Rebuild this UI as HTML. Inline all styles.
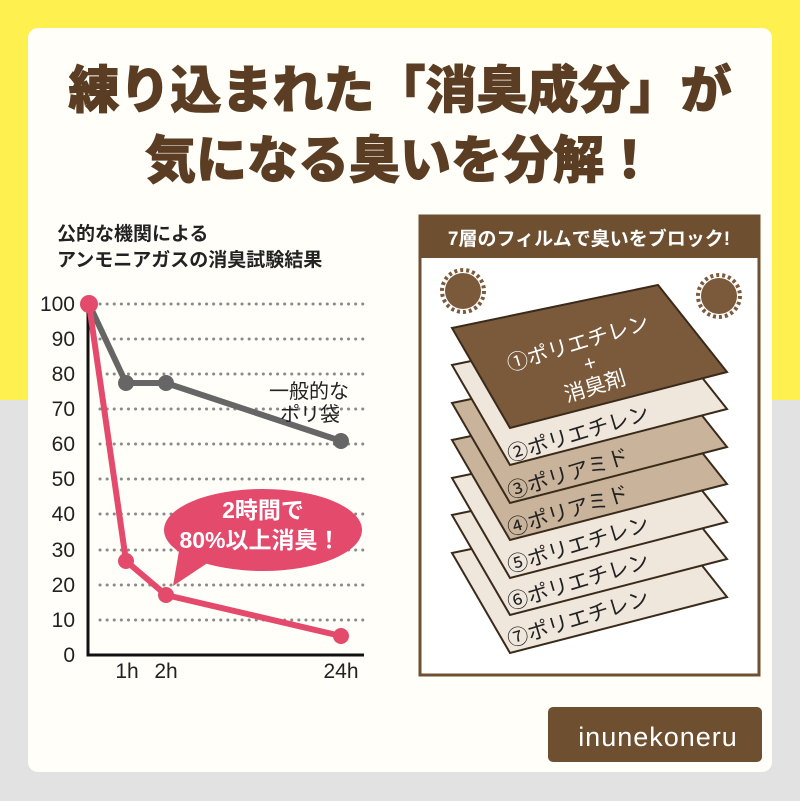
<!DOCTYPE html>
<html><head><meta charset="utf-8"><style>
body{margin:0;width:800px;height:801px;overflow:hidden;font-family:"Liberation Sans","Noto Sans CJK JP",sans-serif}
</style></head><body>
<svg width="800" height="801" viewBox="0 0 800 801" xmlns="http://www.w3.org/2000/svg" font-family="Liberation Sans, Noto Sans CJK JP, sans-serif">
<rect width="800" height="400" fill="#fdf04f"/>
<rect y="400" width="800" height="401" fill="#e2e2e2"/>
<rect x="28" y="28" width="744" height="744" rx="10" fill="#fffef9"/>
<g font-weight="900" fill="#5a3d22" font-size="51" text-anchor="middle" stroke="#5a3d22" stroke-width="1">
<text x="400" y="108">練り込まれた「消臭成分」が</text>
<text x="400" y="178">気になる臭いを分解！</text>
</g>
<g font-weight="bold" fill="#222" font-size="19">
<text x="57" y="240">公的な機関による</text>
<text x="57" y="266">アンモニアガスの消臭試験結果</text>
</g>
<g stroke="#8a8a8a" stroke-width="3" stroke-dasharray="0.1 7" stroke-linecap="round">
<line x1="100" y1="304" x2="367" y2="304"/><line x1="100" y1="339" x2="367" y2="339"/>
<line x1="100" y1="374" x2="367" y2="374"/><line x1="100" y1="409" x2="367" y2="409"/>
<line x1="100" y1="444" x2="367" y2="444"/><line x1="100" y1="479" x2="367" y2="479"/>
<line x1="100" y1="514" x2="367" y2="514"/><line x1="100" y1="550" x2="367" y2="550"/>
<line x1="100" y1="585" x2="367" y2="585"/><line x1="100" y1="620" x2="367" y2="620"/>
</g>
<polyline points="88,300 88,655 364,655" fill="none" stroke="#111" stroke-width="3"/>
<g font-size="21" fill="#222" text-anchor="end">
<text x="75" y="311">100</text><text x="75" y="346">90</text><text x="75" y="381">80</text>
<text x="75" y="416">70</text><text x="75" y="451">60</text><text x="75" y="486">50</text>
<text x="75" y="521">40</text><text x="75" y="557">30</text><text x="75" y="592">20</text>
<text x="75" y="627">10</text><text x="75" y="662">0</text>
</g>
<g font-size="21" fill="#222" text-anchor="middle">
<text x="127" y="678">1h</text><text x="166" y="678">2h</text><text x="341" y="678">24h</text>
</g>
<polyline points="89,304 126,383 166,383 341,441" fill="none" stroke="#666" stroke-width="6"/>
<g fill="#666"><circle cx="126" cy="383" r="8"/><circle cx="166" cy="383" r="8"/><circle cx="341" cy="441" r="8"/></g>
<g font-size="20" fill="#222" text-anchor="end"><text x="349" y="398">一般的な</text><text x="340" y="421">ポリ袋</text></g>
<polyline points="89,304 126,561 166,595 341,636" fill="none" stroke="#e34a6c" stroke-width="6"/>
<g fill="#e34a6c"><circle cx="89" cy="304" r="9"/><circle cx="126" cy="561" r="8"/><circle cx="166" cy="595" r="8"/><circle cx="341" cy="636" r="8"/></g>
<ellipse cx="263" cy="530" rx="99" ry="41" fill="#e34a6c"/>
<polygon points="180,545 215,558 173,586" fill="#e34a6c"/>
<g font-size="23" font-weight="bold" fill="#fff" text-anchor="middle"><text x="263" y="518">2時間で</text><text x="260" y="548">80%以上消臭！</text></g>
<rect x="420" y="216" width="339" height="459" fill="#fff" stroke="#6e5030" stroke-width="3"/>
<rect x="420" y="216" width="339" height="42" fill="#6e5030"/>
<text x="589" y="245" font-size="19" font-weight="bold" fill="#fff" text-anchor="middle">7層のフィルムで臭いをブロック!</text>
<g stroke="#3a2a1a" stroke-width="2">
<polygon points="452,553 658,510 727,597 510,653" fill="#efe6dc"/>
<polygon points="452,515 658,472 727,559 510,615" fill="#efe6dc"/>
<polygon points="452,478 658,435 727,522 510,578" fill="#efe6dc"/>
<polygon points="452,440 658,397 727,484 510,540" fill="#c9b39a"/>
<polygon points="452,403 658,360 727,447 510,503" fill="#c9b39a"/>
<polygon points="452,365 658,322 727,409 510,465" fill="#efe6dc"/>
<polygon points="452,328 658,285 727,372 510,428" fill="#7b5a3c"/>
</g>
<g font-size="21" fill="#222">
<text transform="translate(510,462) rotate(-17)">②ポリエチレン</text>
<text transform="translate(510,499) rotate(-17)">③ポリアミド</text>
<text transform="translate(510,536) rotate(-17)">④ポリアミド</text>
<text transform="translate(510,573) rotate(-17)">⑤ポリエチレン</text>
<text transform="translate(510,610) rotate(-17)">⑥ポリエチレン</text>
<text transform="translate(510,647) rotate(-17)">⑦ポリエチレン</text>
</g>
<g font-size="21" fill="#fff" text-anchor="middle">
<text transform="translate(580,350) rotate(-17)">①ポリエチレン</text>
<text transform="translate(592,370) rotate(-17)">+</text>
<text transform="translate(597,393) rotate(-17)">消臭剤</text>
</g>
<g fill="#7b5a3c"><circle cx="463" cy="291" r="18"/><circle cx="719" cy="296" r="18"/></g>
<g fill="none" stroke="#7b5a3c" stroke-width="4" stroke-dasharray="3 3"><circle cx="463" cy="291" r="21"/><circle cx="719" cy="296" r="21"/></g>
<rect x="548" y="707" width="214" height="55" rx="5" fill="#6e5030"/>
<text x="658" y="746" font-size="27" fill="#fff" text-anchor="middle" letter-spacing="1">inunekoneru</text>
</svg>
</body></html>
